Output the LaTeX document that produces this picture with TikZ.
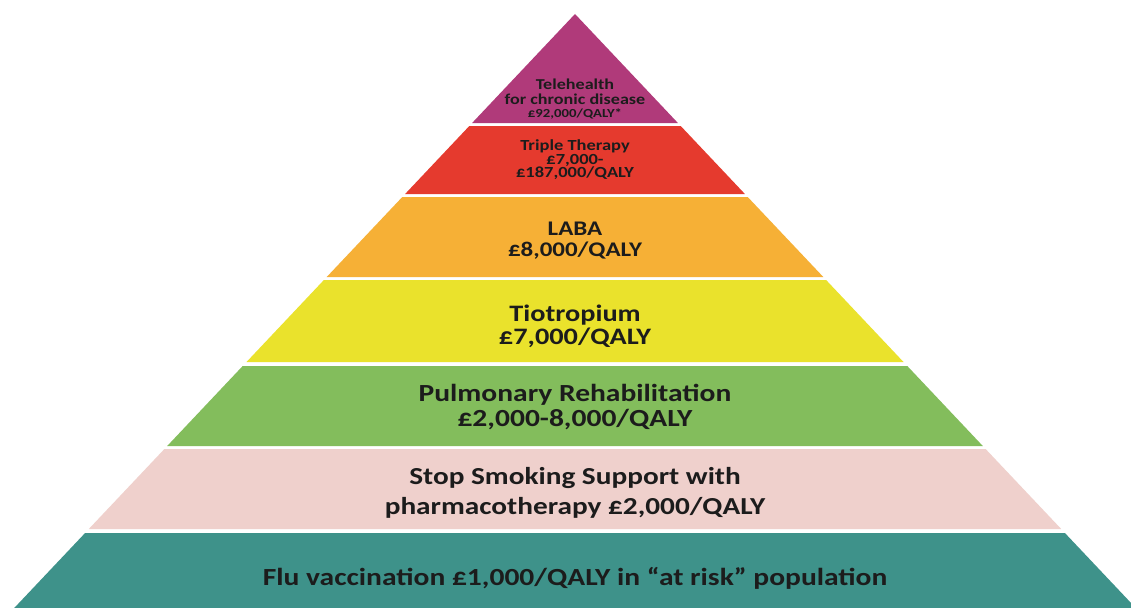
\documentclass[tikz,border=0pt]{standalone}
\usepackage{fontspec}
\setmainfont{Carlito}
\newfontfamily\widefont[FakeStretch=1.2]{Carlito}
\definecolor{cpurple}{RGB}{176,58,122}
\definecolor{cred}{RGB}{229,58,46}
\definecolor{corange}{RGB}{246,176,54}
\definecolor{cyellow}{RGB}{234,226,44}
\definecolor{cgreen}{RGB}{131,189,92}
\definecolor{cpink}{RGB}{239,208,204}
\definecolor{cteal}{RGB}{62,146,138}
\definecolor{ctext}{RGB}{28,28,28}
\tikzset{
  lbl/.style={text=ctext, align=center, inner sep=0pt},
}
\newcommand{\fs}[2]{\widefont\fontsize{#1}{#2}\selectfont\bfseries}
\begin{document}
\begin{tikzpicture}[x=1pt,y=-1pt]
\useasboundingbox (0,0) rectangle (1131,607);
\fill[white] (0,0) rectangle (1131,607);
\clip (0,0) rectangle (1131,607);
% layers: left x = 575 - 0.944*(y-14)
\fill[cpurple] (575,14) -- (677.9,123) -- (472.1,123) -- cycle;
\fill[cred] (469.3,126) -- (680.7,126) -- (744.9,194) -- (405.1,194) -- cycle;
\fill[corange] (402.3,197) -- (747.7,197) -- (823.3,277) -- (326.7,277) -- cycle;
\fill[cyellow] (323.9,280) -- (826.1,280) -- (903.5,362) -- (246.5,362) -- cycle;
\fill[cgreen] (242.7,366) -- (907.3,366) -- (982.8,446) -- (167.2,446) -- cycle;
\fill[cpink] (164.4,449) -- (985.6,449) -- (1061.2,529) -- (88.8,529) -- cycle;
\fill[cteal] (85.1,533) -- (1064.9,533) -- (1147.1,620) -- (2.9,620) -- cycle;
% labels
\node[lbl, font=\fs{15.1}{15}] (tele) at (575,99) {Telehealth\\for chronic disease\\[-2pt]{\fontsize{12.3}{12}\selectfont £92,000/QALY*}};
\node[lbl, font=\fs{15.4}{13.5}] (triple) at (575,160) {Triple Therapy\\£7,000-\\£187,000/QALY};
\node[lbl, font=\fs{20.8}{21}] (laba) at (575,241) {LABA\\£8,000/QALY};
\node[lbl, font=\fs{23.6}{23}] (tio) at (575,326) {Tiotropium\\£7,000/QALY};
\node[lbl, font=\fs{24.6}{25}] (pulm) at (575,407) {Pulmonary Rehabilitation\\£2,000-8,000/QALY};
\node[lbl, font=\fs{24.4}{30}] (stop) at (575,493) {Stop Smoking Support with\\pharmacotherapy £2,000/QALY};
\node[lbl, font=\fs{24.6}{24}] (flu) at (575,578) {Flu vaccination £1,000/QALY in “at risk” population};
\end{tikzpicture}
\end{document}
